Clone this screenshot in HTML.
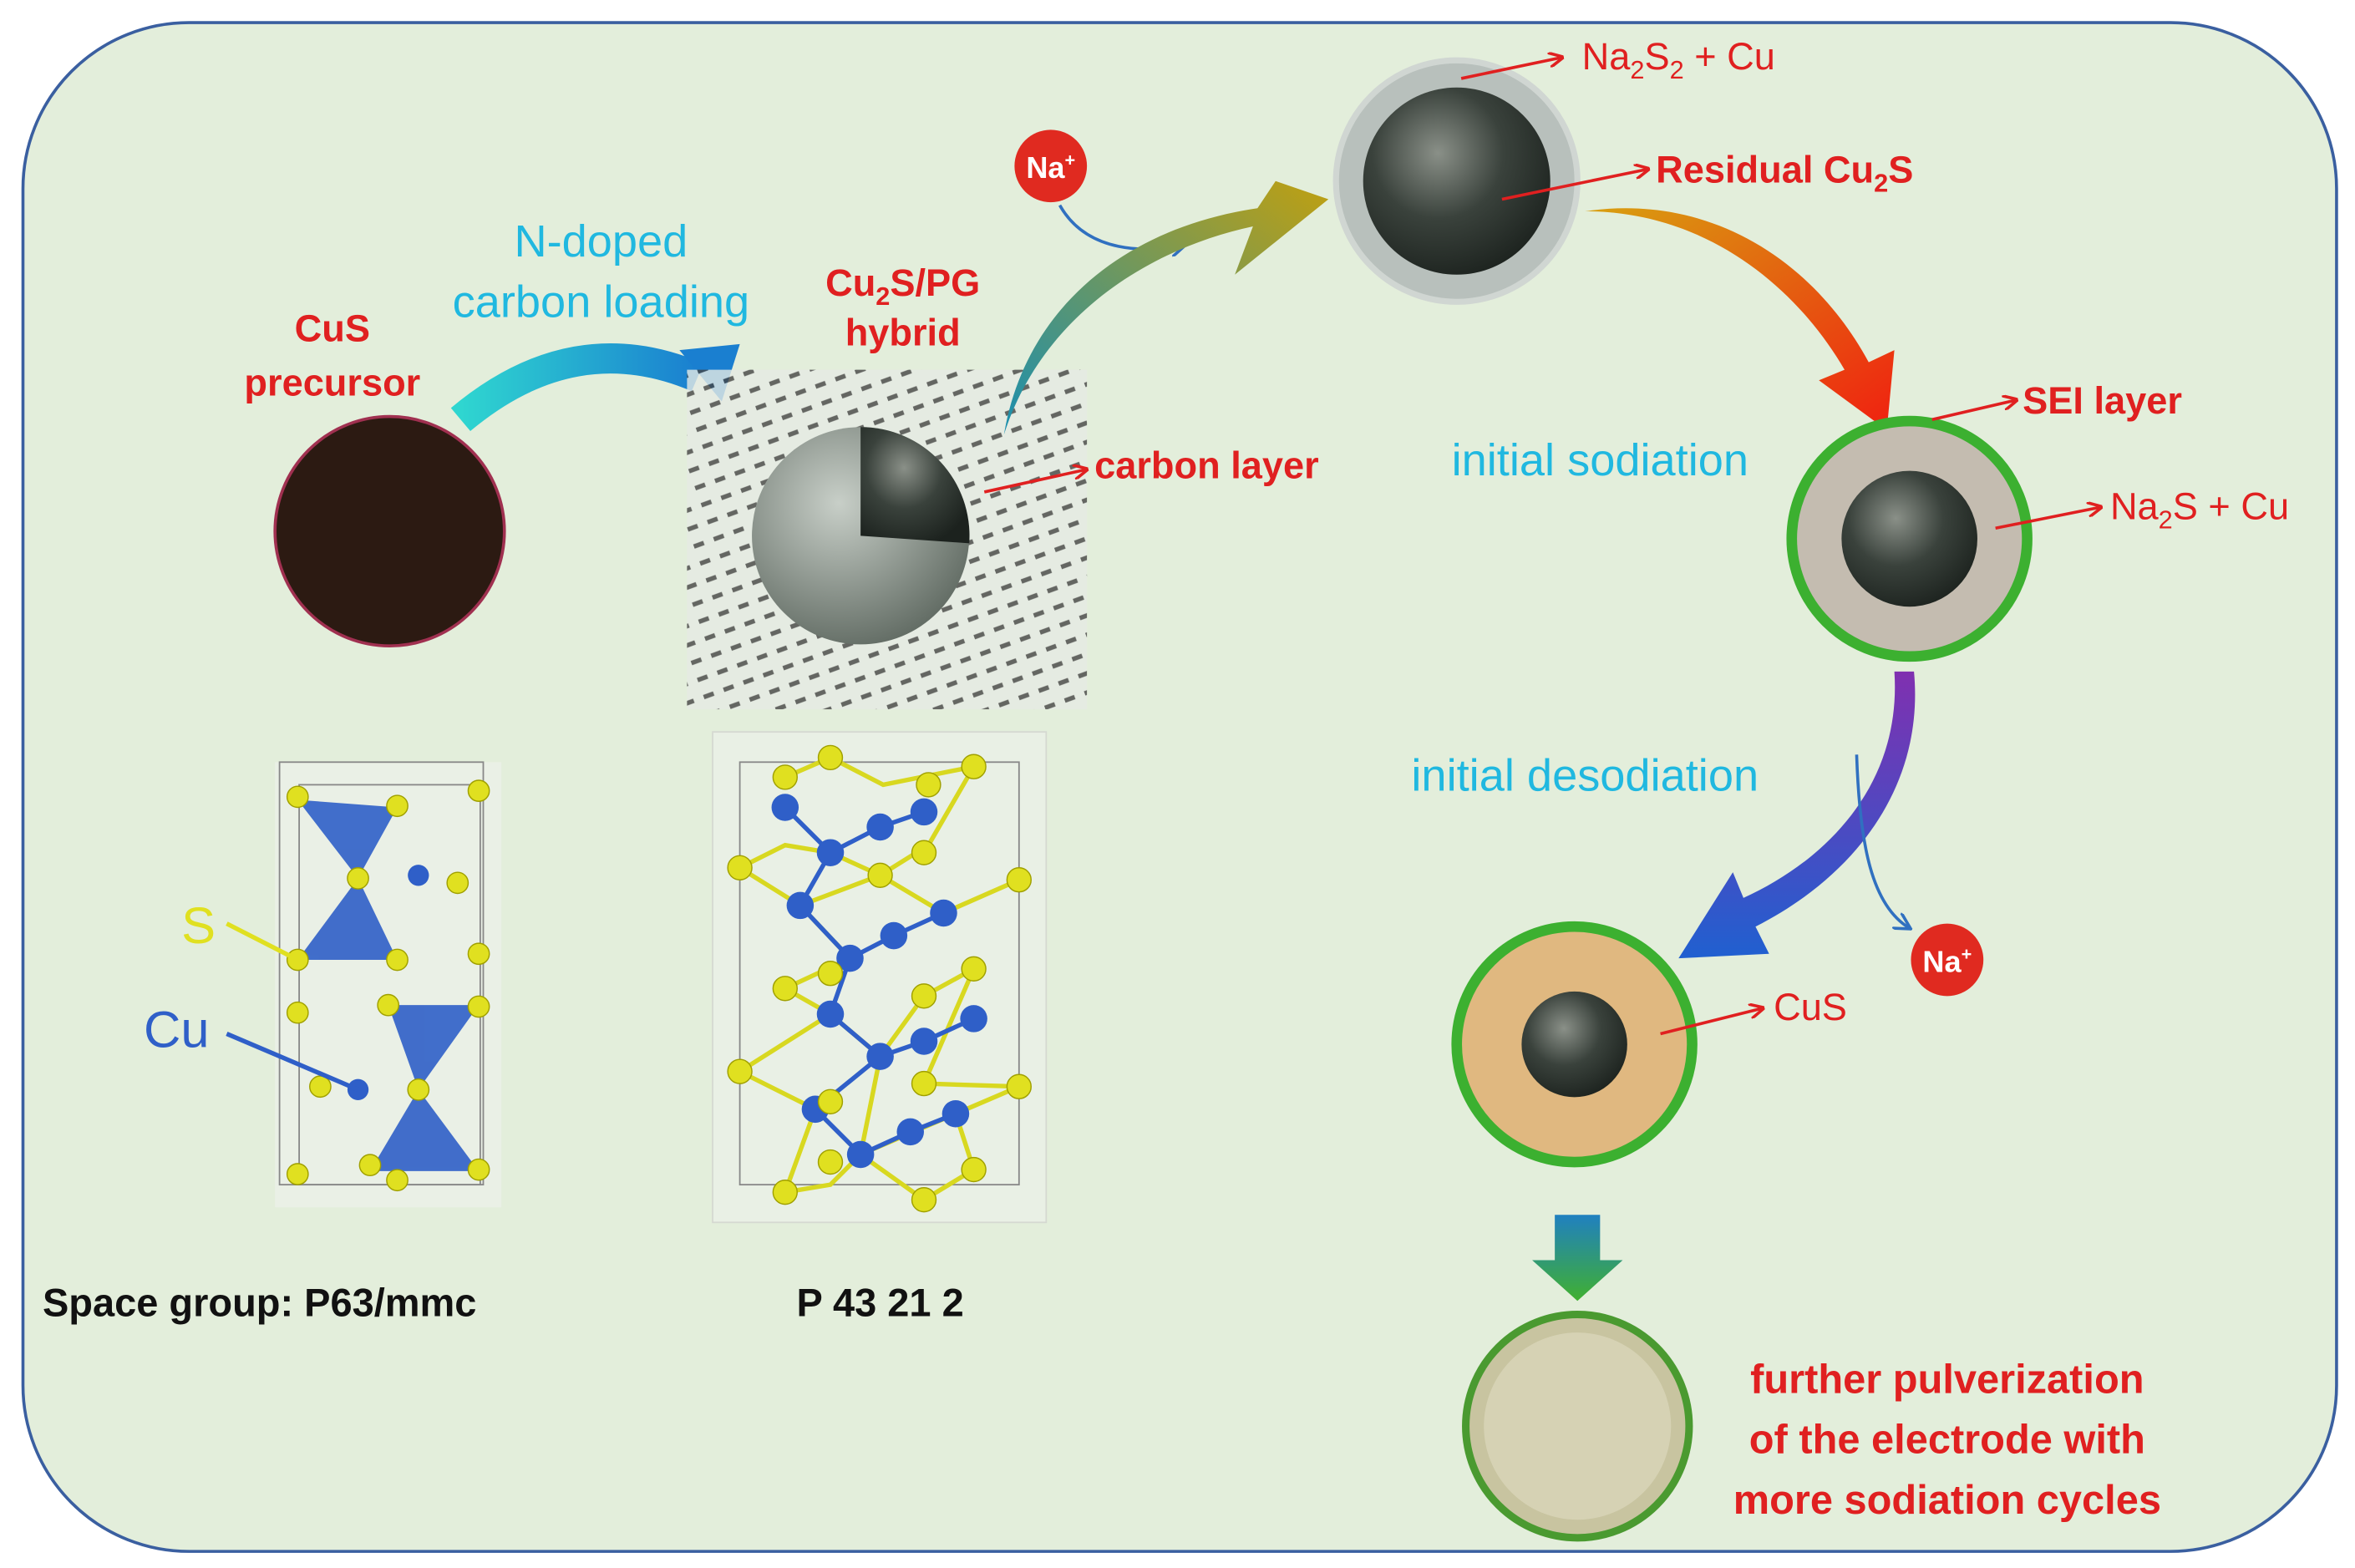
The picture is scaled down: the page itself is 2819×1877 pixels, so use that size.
<!DOCTYPE html>
<html><head><meta charset="utf-8"><style>html,body{margin:0;padding:0;background:#fff}svg{display:block}</style></head><body>
<svg width="2819" height="1877" viewBox="0 0 1560 1039" xmlns="http://www.w3.org/2000/svg" font-family="Liberation Sans, sans-serif">
<defs>
<linearGradient id="g1" x1="0" y1="0" x2="1" y2="0"><stop offset="0" stop-color="#2fd6d0"/><stop offset="1" stop-color="#1a7fd0"/></linearGradient>
<linearGradient id="g2" x1="0" y1="1" x2="1" y2="0"><stop offset="0" stop-color="#1a8fb0"/><stop offset="1" stop-color="#c0a010"/></linearGradient>
<linearGradient id="g3" x1="0" y1="0" x2="1" y2="1"><stop offset="0" stop-color="#d8a010"/><stop offset="1" stop-color="#f02010"/></linearGradient>
<linearGradient id="g4" x1="0" y1="0" x2="0" y2="1"><stop offset="0" stop-color="#8030b0"/><stop offset="1" stop-color="#2060d0"/></linearGradient>
<linearGradient id="g5" x1="0" y1="0" x2="0" y2="1"><stop offset="0" stop-color="#2080c0"/><stop offset="1" stop-color="#40b030"/></linearGradient>
<radialGradient id="dk" cx="0.4" cy="0.35" r="0.7"><stop offset="0" stop-color="#8a9088"/><stop offset="0.5" stop-color="#3a423c"/><stop offset="1" stop-color="#1c221e"/></radialGradient>
<radialGradient id="gs" cx="0.4" cy="0.35" r="0.7"><stop offset="0" stop-color="#c8cfc8"/><stop offset="1" stop-color="#606a62"/></radialGradient>
<pattern id="hatch" width="14" height="12" patternUnits="userSpaceOnUse" patternTransform="rotate(-20)"><rect width="14" height="12" fill="#e6eae4"/><rect x="0" y="4" width="7" height="3" fill="#444"/></pattern>
<marker id="ar" markerWidth="10" markerHeight="10" refX="9" refY="5" orient="auto" markerUnits="userSpaceOnUse"><path d="M0,0 L10,5 L0,10" fill="none" stroke="#e02020" stroke-width="2"/></marker>
<marker id="ab" markerWidth="12" markerHeight="12" refX="10" refY="6" orient="auto" markerUnits="userSpaceOnUse"><path d="M0,0 L11,6 L0,12" fill="none" stroke="#3070c0" stroke-width="2"/></marker>
</defs>
<rect x="15" y="15" width="1533" height="1013" rx="110" fill="#e3eedb" stroke="#3a5fa0" stroke-width="2"/>

<text x="220" y="226" font-size="25" font-weight="bold" fill="#e02020" text-anchor="middle">CuS</text>
<text x="220" y="262" font-size="25" font-weight="bold" fill="#e02020" text-anchor="middle">precursor</text>
<circle cx="258" cy="352" r="76" fill="#2c1a12" stroke="#a03050" stroke-width="2"/>

<text x="398" y="170" font-size="30" fill="#20b8e0" text-anchor="middle">N-doped</text>
<text x="398" y="210" font-size="30" fill="#20b8e0" text-anchor="middle">carbon loading</text>
<path d="M305,278 Q380,215 462,250" fill="none" stroke="url(#g1)" stroke-width="20"/>
<polygon points="450,232 490,228 478,266" fill="#1a7fd0"/>

<text x="598" y="196" font-size="25" font-weight="bold" fill="#e02020" text-anchor="middle">Cu<tspan font-size="17" dy="6">2</tspan><tspan dy="-6">S/PG</tspan></text>
<text x="598" y="229" font-size="25" font-weight="bold" fill="#e02020" text-anchor="middle">hybrid</text>
<rect x="455" y="245" width="265" height="225" fill="url(#hatch)" opacity="0.8"/>
<circle cx="570" cy="355" r="72" fill="url(#gs)"/>
<path d="M570,355 L570,283 A72,72 0 0 1 642,360 Z" fill="url(#dk)"/>
<text x="725" y="317" font-size="25" font-weight="bold" fill="#e02020">carbon layer</text>
<line x1="652" y1="326" x2="720" y2="311" stroke="#e02020" stroke-width="2" marker-end="url(#ar)"/>

<circle cx="696" cy="110" r="24" fill="#e02a20"/>
<text x="696" y="118" font-size="20" fill="#fff" text-anchor="middle" font-weight="bold">Na<tspan font-size="12" dy="-8">+</tspan></text>
<path d="M702,136 C720,168 760,168 785,162" fill="none" stroke="#3070c0" stroke-width="2" marker-end="url(#ab)"/>
<path d="M665,288 C690,210 760,165 830,150 L818,182 L880,132 L845,120 L833,138 C750,150 680,200 665,288 Z" fill="url(#g2)"/>

<circle cx="965" cy="120" r="80" fill="#b8c0bc" stroke="#d0d6d2" stroke-width="4"/>
<circle cx="965" cy="120" r="62" fill="url(#dk)"/>
<text x="1048" y="46" font-size="25" fill="#e02020">Na<tspan font-size="17" dy="6">2</tspan><tspan dy="-6">S</tspan><tspan font-size="17" dy="6">2</tspan><tspan dy="-6"> + Cu</tspan></text>
<line x1="968" y1="52" x2="1035" y2="38" stroke="#e02020" stroke-width="2" marker-end="url(#ar)"/>
<text x="1097" y="121" font-size="25" font-weight="bold" fill="#e02020">Residual Cu<tspan font-size="17" dy="6">2</tspan><tspan dy="-6">S</tspan></text>
<line x1="995" y1="132" x2="1092" y2="112" stroke="#e02020" stroke-width="2" marker-end="url(#ar)"/>
<path d="M1050,140 C1130,140 1190,190 1222,245 L1205,252 L1250,285 L1255,232 L1238,240 C1200,170 1130,128 1050,140 Z" fill="url(#g3)"/>

<text x="1060" y="315" font-size="30" fill="#20b8e0" text-anchor="middle">initial sodiation</text>
<circle cx="1265" cy="357" r="78" fill="#c4bcb0" stroke="#3cb030" stroke-width="7"/>
<circle cx="1265" cy="357" r="45" fill="url(#dk)"/>
<text x="1340" y="274" font-size="25" font-weight="bold" fill="#e02020">SEI layer</text>
<line x1="1280" y1="278" x2="1336" y2="265" stroke="#e02020" stroke-width="2" marker-end="url(#ar)"/>
<text x="1398" y="344" font-size="25" fill="#e02020">Na<tspan font-size="17" dy="6">2</tspan><tspan dy="-6">S + Cu</tspan></text>
<line x1="1322" y1="350" x2="1392" y2="336" stroke="#e02020" stroke-width="2" marker-end="url(#ar)"/>

<path d="M1255,445 C1260,520 1210,570 1155,595 L1148,578 L1112,635 L1172,632 L1163,614 C1230,580 1275,520 1268,445 Z" fill="url(#g4)"/>
<text x="1050" y="524" font-size="30" fill="#20b8e0" text-anchor="middle">initial desodiation</text>
<path d="M1230,500 C1232,560 1240,600 1265,615" fill="none" stroke="#3070c0" stroke-width="2" marker-end="url(#ab)"/>
<circle cx="1290" cy="636" r="24" fill="#e02a20"/>
<text x="1290" y="644" font-size="20" fill="#fff" text-anchor="middle" font-weight="bold">Na<tspan font-size="12" dy="-8">+</tspan></text>

<circle cx="1043" cy="692" r="78" fill="#e0b880" stroke="#3cb030" stroke-width="7"/>
<circle cx="1043" cy="692" r="35" fill="url(#dk)"/>
<text x="1175" y="676" font-size="25" fill="#e02020">CuS</text>
<line x1="1100" y1="685" x2="1168" y2="668" stroke="#e02020" stroke-width="2" marker-end="url(#ar)"/>
<path d="M1030,805 L1060,805 L1060,835 L1075,835 L1045,862 L1015,835 L1030,835 Z" fill="url(#g5)"/>
<circle cx="1045" cy="945" r="74" fill="#c8c4a0" stroke="#4a9a30" stroke-width="5"/>
<circle cx="1045" cy="945" r="62" fill="#d6d2b4"/>
<text x="1290" y="923" font-size="27" font-weight="bold" fill="#e02020" text-anchor="middle">further pulverization</text>
<text x="1290" y="963" font-size="27" font-weight="bold" fill="#e02020" text-anchor="middle">of the electrode with</text>
<text x="1290" y="1003" font-size="27" font-weight="bold" fill="#e02020" text-anchor="middle">more sodiation cycles</text>

<rect x="182" y="505" width="150" height="295" fill="#eef2ec" opacity="0.6"/>
<g stroke="#888" stroke-width="1" fill="none"><rect x="198" y="520" width="120" height="265"/><rect x="185" y="505" width="135" height="280"/></g>
<g fill="#2f5fc8" opacity="0.9">
<polygon points="197,530 263,535 237,582"/><polygon points="237,582 263,636 197,636"/>
<polygon points="257,666 317,666 277,722"/><polygon points="277,722 317,776 245,776"/></g>
<g fill="#e0e020" stroke="#a0a000" stroke-width="0.8">
<circle cx="197" cy="528" r="7"/><circle cx="263" cy="534" r="7"/><circle cx="317" cy="524" r="7"/><circle cx="237" cy="582" r="7"/><circle cx="303" cy="585" r="7"/><circle cx="197" cy="636" r="7"/><circle cx="263" cy="636" r="7"/><circle cx="317" cy="632" r="7"/><circle cx="197" cy="671" r="7"/><circle cx="257" cy="666" r="7"/><circle cx="317" cy="667" r="7"/><circle cx="277" cy="722" r="7"/><circle cx="212" cy="720" r="7"/><circle cx="197" cy="778" r="7"/><circle cx="245" cy="772" r="7"/><circle cx="317" cy="775" r="7"/><circle cx="263" cy="782" r="7"/></g>
<g fill="#2f5fc8"><circle cx="277" cy="580" r="7"/><circle cx="237" cy="722" r="7"/></g>
<text x="120" y="625" font-size="34" fill="#e0e020">S</text>
<line x1="197" y1="636" x2="150" y2="612" stroke="#e0e020" stroke-width="3"/>
<text x="95" y="694" font-size="34" fill="#2f5fc8">Cu</text>
<line x1="237" y1="722" x2="150" y2="685" stroke="#2f5fc8" stroke-width="3"/>

<rect x="472" y="485" width="221" height="325" fill="#eef2ec" opacity="0.6" stroke="#ccc"/>
<g stroke="#888" fill="none" stroke-width="1"><rect x="490" y="505" width="185" height="280"/></g>
<g stroke="#d8d820" stroke-width="3" fill="none">
<path d="M520,515 L550,502 L585,520 L645,508 L615,560 L583,580 L530,600 L490,575 L520,560 L550,565 L583,580 L625,605 L675,583 M530,600 L563,635 L520,655 L550,672 L583,700 L612,660 L645,642 L612,718 L675,720 L633,738 L645,775 L612,795 L570,765 L550,785 L520,790 L540,735 L490,710 L550,672 M583,700 L570,765 L633,738"/></g>
<g stroke="#2f5fc8" stroke-width="3" fill="none">
<path d="M520,535 L550,565 L583,548 L612,538 M550,565 L530,600 L563,635 L592,620 L625,605 M563,635 L550,672 L583,700 L612,690 L645,675 M583,700 L540,735 L570,765 L603,750 L633,738"/></g>
<g fill="#2f5fc8"><circle cx="520" cy="535" r="9"/><circle cx="583" cy="548" r="9"/><circle cx="612" cy="538" r="9"/><circle cx="550" cy="565" r="9"/><circle cx="530" cy="600" r="9"/><circle cx="625" cy="605" r="9"/><circle cx="563" cy="635" r="9"/><circle cx="592" cy="620" r="9"/><circle cx="550" cy="672" r="9"/><circle cx="645" cy="675" r="9"/><circle cx="583" cy="700" r="9"/><circle cx="612" cy="690" r="9"/><circle cx="540" cy="735" r="9"/><circle cx="603" cy="750" r="9"/><circle cx="633" cy="738" r="9"/><circle cx="570" cy="765" r="9"/></g>
<g fill="#e0e020" stroke="#a0a000" stroke-width="0.8"><circle cx="520" cy="515" r="8"/><circle cx="550" cy="502" r="8"/><circle cx="645" cy="508" r="8"/><circle cx="615" cy="520" r="8"/><circle cx="490" cy="575" r="8"/><circle cx="583" cy="580" r="8"/><circle cx="675" cy="583" r="8"/><circle cx="612" cy="565" r="8"/><circle cx="520" cy="655" r="8"/><circle cx="645" cy="642" r="8"/><circle cx="612" cy="660" r="8"/><circle cx="550" cy="645" r="8"/><circle cx="490" cy="710" r="8"/><circle cx="675" cy="720" r="8"/><circle cx="612" cy="718" r="8"/><circle cx="550" cy="730" r="8"/><circle cx="520" cy="790" r="8"/><circle cx="550" cy="770" r="8"/><circle cx="612" cy="795" r="8"/><circle cx="645" cy="775" r="8"/></g>

<text x="28" y="872" font-size="26" font-weight="bold" fill="#111">Space group: P63/mmc</text>
<text x="583" y="872" font-size="26" font-weight="bold" fill="#111" text-anchor="middle">P 43 21 2</text>
</svg>
</body></html>
